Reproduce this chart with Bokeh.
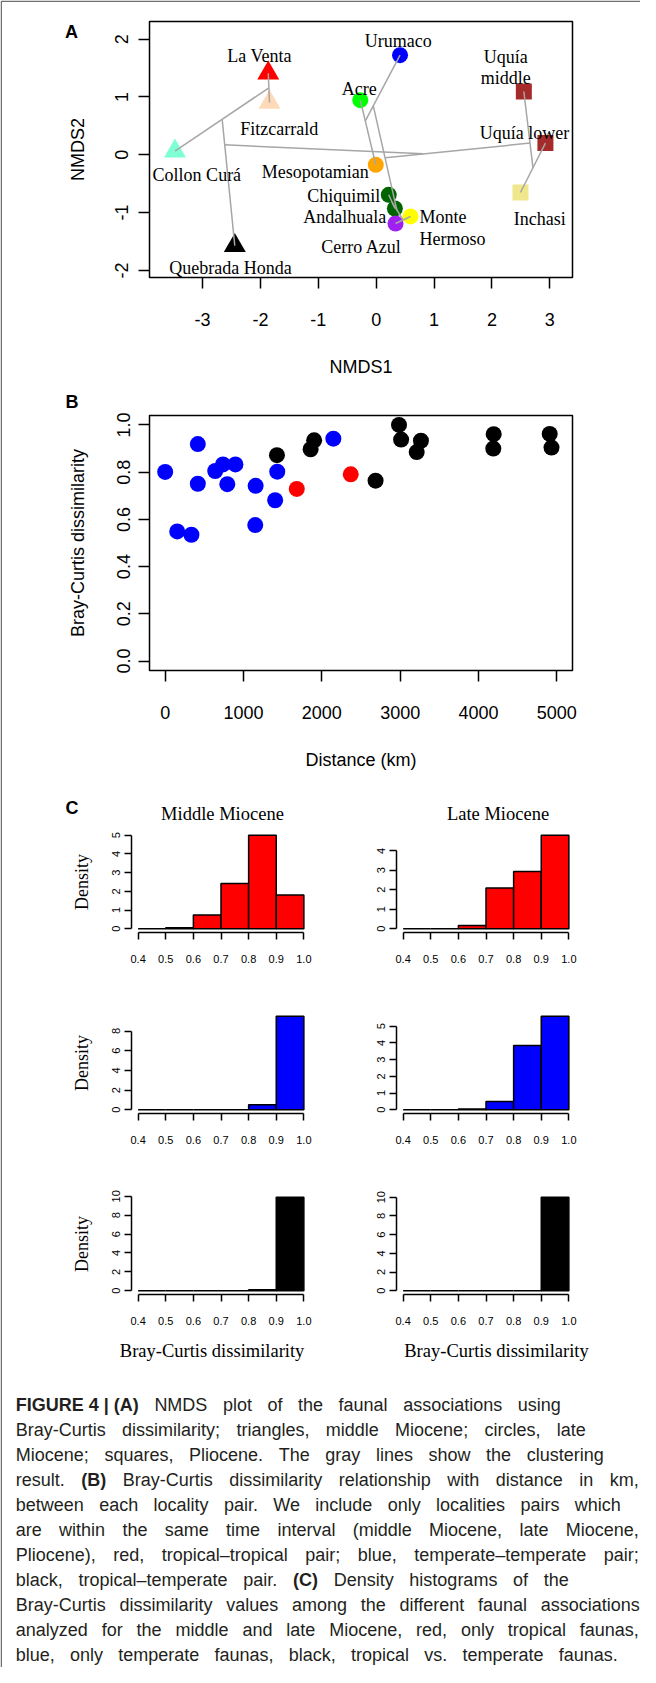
from bokeh.plotting import figure
from bokeh.models import Range1d, FixedTicker, NumeralTickFormatter, Div, ColumnDataSource, GridBox
from bokeh.layouts import column, row
from bokeh.core.properties import value
from bokeh.embed import file_html
from bokeh.resources import INLINE

# ====================== DATA ======================
# Panel A: NMDS ordination of the faunal associations
sites = ["La Venta", "Fitzcarrald", "Collon Curá", "Quebrada Honda",
         "Urumaco", "Acre", "Mesopotamian", "Chiquimil", "Andalhuala",
         "Monte\nHermoso", "Cerro Azul",
         "Uquía\nmiddle", "Uquía lower", "Inchasi"]
site_period = ["middle Miocene"] * 4 + ["late Miocene"] * 7 + ["Pliocene"] * 3
nmds1 = [-1.865, -1.843, -3.477, -2.443, 0.412, -0.275, -0.007, 0.217, 0.323,
         0.593, 0.334, 2.551, 2.924, 2.493]
nmds2 = [1.412, 0.905, 0.063, -1.574, 1.723, 0.945, -0.173, -0.692, -0.929,
         -1.067, -1.189, 1.095, 0.202, -0.652]

# clustering result (segments between merged items / group centroids)
link_x0 = [-1.865, -1.854, -2.660, -2.618, 0.217, 0.334, 0.270, -0.275, 0.412, -0.050, 0.160, 2.924, 2.709]
link_y0 = [1.412, 1.159, 0.600, 0.173, -0.692, -1.189, -0.811, 0.945, 1.723, 0.847, -0.050, 0.202, -0.225]
link_x1 = [-1.843, -3.477, -2.443, 0.810, 0.323, 0.593, 0.464, -0.007, -0.185, 0.360, 2.658, 2.493, 2.551]
link_y1 = [0.905, 0.063, -1.574, 0.016, -0.929, -1.067, -1.128, -0.173, 0.590, -0.970, 0.202, -0.652, 1.095]

ticks_a_x = [-3, -2, -1, 0, 1, 2, 3]
ticks_a_y = [-2, -1, 0, 1, 2]

# Panel B: Bray-Curtis dissimilarity vs distance (km)
dist_temperate = [0, 417, 417, 154, 335, 639, 738, 897, 793, 1155, 1150, 1431, 1404, 2147]
bc_temperate = [0.801, 0.919, 0.751, 0.549, 0.535, 0.805, 0.833, 0.833, 0.749, 0.742, 0.576, 0.802, 0.681, 0.942]
dist_tropical = [1680, 2369]
bc_tropical = [0.729, 0.791]
dist_mixed = [1427, 1857, 1902, 2686, 2985, 3012, 3211, 3265, 4194, 4189, 4909, 4932]
bc_mixed = [0.872, 0.897, 0.935, 0.764, 1.000, 0.938, 0.885, 0.933, 0.961, 0.900, 0.962, 0.904]

ticks_b_x = [0, 1000, 2000, 3000, 4000, 5000]
ticks_b_y = [0.0, 0.2, 0.4, 0.6, 0.8, 1.0]

# Panel C: density histograms of Bray-Curtis dissimilarity
bin_edges = [0.4, 0.5, 0.6, 0.7, 0.8, 0.9, 1.0]
dens_middle_tropical = [0.0, 0.05, 0.73, 2.42, 5.0, 1.8]
dens_late_tropical = [0.0, 0.0, 0.17, 2.09, 2.94, 4.8]
dens_middle_temperate = [0.0, 0.0, 0.0, 0.0, 0.5, 9.5]
dens_late_temperate = [0.0, 0.0, 0.05, 0.5, 3.85, 5.6]
dens_middle_mixed = [0.0, 0.0, 0.0, 0.0, 0.1, 9.9]
dens_late_mixed = [0.0, 0.0, 0.0, 0.0, 0.0, 10.0]

ticks_c_x = [0.4, 0.5, 0.6, 0.7, 0.8, 0.9, 1.0]
ticks_c_y_middle_tropical = [0, 1, 2, 3, 4, 5]
ticks_c_y_late_tropical = [0, 1, 2, 3, 4]
ticks_c_y_middle_temperate = [0, 2, 4, 6, 8]
ticks_c_y_late_temperate = [0, 1, 2, 3, 4, 5]
ticks_c_y_middle_mixed = [0, 2, 4, 6, 8, 10]
ticks_c_y_late_mixed = [0, 2, 4, 6, 8, 10]

panel_titles = ["Middle Miocene", "Late Miocene"]
hist_xlabel = "Bray-Curtis dissimilarity"

caption_lines = [
    "FIGURE\u00a04\u00a0|\u00a0(A) NMDS plot of the faunal associations using",
    "Bray-Curtis dissimilarity; triangles, middle Miocene; circles, late",
    "Miocene; squares, Pliocene. The gray lines show the clustering",
    "result. (B) Bray-Curtis dissimilarity relationship with distance in km,",
    "between each locality pair. We include only localities pairs which",
    "are within the same time interval (middle Miocene, late Miocene,",
    "Pliocene), red, tropical\u2013tropical pair; blue, temperate\u2013temperate pair;",
    "black, tropical\u2013temperate pair. (C) Density histograms of the",
    "Bray-Curtis dissimilarity values among the different faunal associations",
    "analyzed for the middle and late Miocene, red, only tropical faunas,",
    "blue, only temperate faunas, black, tropical vs. temperate faunas.",
]

# ====================== STYLE / LAYOUT ======================
SANS = "Liberation Sans"
SERIF = "Liberation Serif"


def make_fig(page_x, page_y, w, h, fx, fy, fw, fh, xr, yr):
    p = figure(width=w, height=h, x_range=Range1d(*xr), y_range=Range1d(*yr),
               output_backend="svg", toolbar_location=None, title=None,
               min_border_left=fx - page_x, min_border_right=w - (fx - page_x) - fw,
               min_border_top=fy - page_y, min_border_bottom=h - (fy - page_y) - fh)
    p.xgrid.visible = False
    p.ygrid.visible = False
    p.outline_line_color = None
    p.background_fill_color = "white"
    p.border_fill_color = "white"
    return p


def style_axis(ax, ticks, fmt, size, tick_out, standoff, vertical=False,
               line=True, bounds=None, label=None, label_font=SANS, label_size="18px",
               label_standoff=0):
    ax.ticker = FixedTicker(ticks=ticks)
    ax.formatter = NumeralTickFormatter(format=fmt)
    ax.major_label_text_font = SANS
    ax.major_label_text_font_size = size
    ax.major_label_text_color = "black"
    ax.major_tick_out = tick_out
    ax.major_tick_in = 0
    ax.minor_tick_out = 0
    ax.minor_tick_in = 0
    ax.major_tick_line_width = 1.5
    ax.major_tick_line_color = "black"
    ax.major_label_standoff = standoff
    if vertical:
        ax.major_label_orientation = "vertical"
    if line:
        ax.axis_line_width = 1.5
        ax.axis_line_color = "black"
    else:
        ax.axis_line_color = None
    if bounds is not None:
        ax.bounds = bounds
    if label is not None:
        ax.axis_label = label
        ax.axis_label_text_font = label_font
        ax.axis_label_text_font_size = label_size
        ax.axis_label_text_font_style = "normal"
        ax.axis_label_text_color = "black"
        ax.axis_label_standoff = label_standoff


# ---------------- Panel A ----------------
a_xr = (-3.917, 3.392)
a_yr = (-2.123, 2.306)
A_FX, A_FY, A_FW, A_FH = 157, 29, 423, 256
pA = make_fig(8, 8, 640, 382, A_FX, A_FY, A_FW, A_FH, a_xr, a_yr)
pA.outline_line_color = "black"
pA.outline_line_width = 1.5

site_color = {"La Venta": "#FF0000", "Fitzcarrald": "#FFDAB9", "Collon Curá": "#7FFFD4",
              "Quebrada Honda": "#000000", "Urumaco": "#0000FF", "Acre": "#00FF00",
              "Mesopotamian": "#FFA500", "Chiquimil": "#006400", "Andalhuala": "#006400",
              "Monte\nHermoso": "#FFFF00", "Cerro Azul": "#A020F0",
              "Uquía\nmiddle": "#A52A2A", "Uquía lower": "#A52A2A", "Inchasi": "#F0E68C"}
period_marker = {"middle Miocene": "triangle", "late Miocene": "circle", "Pliocene": "square"}
period_size = {"middle Miocene": 22, "late Miocene": 16, "Pliocene": 16}

srcA = ColumnDataSource(dict(
    x=nmds1, y=nmds2,
    marker=[period_marker[s] for s in site_period],
    size=[period_size[s] for s in site_period],
    color=[site_color[s] for s in sites]))
pA.scatter("x", "y", source=srcA, marker="marker", size="size",
           fill_color="color", line_color=None)
pA.segment(x0=link_x0, y0=link_y0, x1=link_x1, y1=link_y1,
           line_color="#A6A6A6", line_width=1.5)

# label placement: (align, dx px, dy px downward to baseline of first line)
label_place = {
    "La Venta": ("center", -8.7, -16.7),
    "Fitzcarrald": ("center", 9.7, 26.7),
    "Collon Curá": ("center", 21.9, 24.0),
    "Quebrada Honda": ("center", -4.3, 22.7),
    "Urumaco": ("center", -1.7, -13.7),
    "Acre": ("center", -1.0, -11.0),
    "Mesopotamian": ("right", -7.1, 7.7),
    "Chiquimil": ("right", -8.4, 1.7),
    "Andalhuala": ("right", -8.7, 9.0),
    "Monte\nHermoso": ("left", 9.0, 1.0),
    "Cerro Azul": ("center", -34.1, 23.0),
    "Uquía\nmiddle": ("center", -18.2, -34.7),
    "Uquía lower": ("center", -21.0, -10.6),
    "Inchasi": ("center", 19.2, 26.7),
}
kx = A_FW / (a_xr[1] - a_xr[0])
ky = A_FH / (a_yr[1] - a_yr[0])
LINE_H = 21.7
groups = {"center": ([], [], []), "left": ([], [], []), "right": ([], [], [])}
for i, s in enumerate(sites):
    align, dx, dy = label_place[s]
    for j, ln in enumerate(s.split("\n")):
        gx, gy, gt = groups[align]
        gx.append(nmds1[i] + dx / kx)
        gy.append(nmds2[i] - (dy + j * LINE_H) / ky)
        gt.append(ln)
for align, (gx, gy, gt) in groups.items():
    if gt:
        pA.text(x=gx, y=gy, text=gt, text_font=value(SERIF), text_font_size="18px",
                text_align=align, text_baseline="alphabetic", text_color="black")

style_axis(pA.xaxis[0], ticks_a_x, "0", "18px", 11, 24, line=False,
           label="NMDS1", label_standoff=28)
style_axis(pA.yaxis[0], ticks_a_y, "0", "18px", 11, 10, vertical=True, line=False,
           label="NMDS2", label_standoff=25)

# ---------------- Panel B ----------------
b_xr = (-200, 5200)
b_yr = (-0.04, 1.04)
pB = make_fig(8, 390, 640, 390, 157, 423, 423, 257, b_xr, b_yr)
pB.outline_line_color = "black"
pB.outline_line_width = 1.5
pB.scatter(dist_temperate, bc_temperate, size=16, fill_color="#0000FF", line_color=None)
pB.scatter(dist_mixed, bc_mixed, size=16, fill_color="#000000", line_color=None)
pB.scatter(dist_tropical, bc_tropical, size=16, fill_color="#FF0000", line_color=None)
style_axis(pB.xaxis[0], ticks_b_x, "0", "18px", 11, 24, line=False,
           label="Distance (km)", label_standoff=28)
style_axis(pB.yaxis[0], ticks_b_y, "0.0", "18px", 11, 8, vertical=True, line=False,
           label="Bray-Curtis dissimilarity", label_standoff=27)

# ---------------- Panel C ----------------
hist_specs = [
    (dens_middle_tropical, "#FF0000", ticks_c_y_middle_tropical, 0, 0),
    (dens_late_tropical, "#FF0000", ticks_c_y_late_tropical, 0, 1),
    (dens_middle_temperate, "#0000FF", ticks_c_y_middle_temperate, 1, 0),
    (dens_late_temperate, "#0000FF", ticks_c_y_late_temperate, 1, 1),
    (dens_middle_mixed, "#000000", ticks_c_y_middle_mixed, 2, 0),
    (dens_late_mixed, "#000000", ticks_c_y_late_mixed, 2, 1),
]
row_box = [(780, 210, 839), (990, 180, 1020), (1170, 210, 1201)]  # page y, height, frame top
col_box = [(8, 320, 139), (328, 320, 404)]                          # page x, width, frame left
C_FW, C_FH = 179, 101
c_xr = (0.376, 1.024)
hist_figs = {}
for dens, color, yt, r, c in hist_specs:
    py, h, fy = row_box[r]
    px, w, fx = col_box[c]
    m = max(dens)
    yr = (-0.04 * m, 1.04 * m)
    p = make_fig(px, py, w, h, fx, fy, C_FW, C_FH, c_xr, yr)
    p.quad(left=bin_edges[:-1], right=bin_edges[1:], bottom=0, top=dens,
           fill_color=color, line_color="black", line_width=1.5)
    style_axis(p.xaxis[0], ticks_c_x, "0.0", "11px", 7, 15, bounds=(0.4, 1.0))
    style_axis(p.yaxis[0], yt, "0", "11px", 7, 4, vertical=True, bounds=(yt[0], yt[-1]),
               label="Density" if c == 0 else None, label_font=SERIF,
               label_size="18px", label_standoff=18)
    hist_figs[(r, c)] = p

# ---------------- Caption ----------------
caption_widths = [545, 570, 588, 623, 605, 623, 623, 553, 624, 623, 602]
line_html = []
for ln, wd in zip(caption_lines, caption_widths):
    spans = []
    for tok in ln.split(" "):
        bold = tok.startswith("FIGURE") or tok in ("(A)", "(B)", "(C)")
        spans.append('<span style="font-weight:%d">%s</span>' % (700 if bold else 400, tok))
    line_html.append('<div style="display:flex;justify-content:space-between;width:%dpx;'
                     'height:25px;line-height:25px;white-space:nowrap">%s</div>' % (wd, "".join(spans)))
cap_html = ('<div style="padding:20.5px 0 0 15.8px;font-family:\'Liberation Sans\',Arial,sans-serif;'
            'font-size:18px;color:#231f20">' + "".join(line_html) + '</div>')
cap = Div(text=cap_html, width=640, height=295, margin=0)

main = column(
    pA, pB,
    row(hist_figs[(0, 0)], hist_figs[(0, 1)]),
    row(hist_figs[(1, 0)], hist_figs[(1, 1)]),
    row(hist_figs[(2, 0)], hist_figs[(2, 1)]),
    cap,
)

# ---------------- Overlay (panel letters, titles, frame) in page pixels ----------------
ov = figure(width=640, height=1667, x_range=Range1d(8, 648), y_range=Range1d(1675, 8),
            output_backend="svg", toolbar_location=None, title=None,
            x_axis_location=None, y_axis_location=None,
            min_border_left=0, min_border_right=0, min_border_top=0, min_border_bottom=0)
ov.grid.visible = False
ov.outline_line_color = None
ov.background_fill_color = None
ov.border_fill_color = None
ov.line(x=[648, 8.75, 8.75], y=[8.75, 8.75, 1675], line_color="#707070", line_width=1.5)
ov.text(x=[79, 79.5, 79.5], y=[39.7, 409.7, 815.6], text=["A", "B", "C"],
        text_font=value(SANS), text_font_size="18px", text_font_style="bold",
        text_align="center", text_baseline="middle", text_color="black")
ov.text(x=[230, 505.5], y=[821, 821], text=panel_titles,
        text_font=value(SERIF), text_font_size="18.5px",
        text_align="center", text_baseline="alphabetic", text_color="black")
ov.text(x=[219.6, 504], y=[1358.5, 1358.5], text=[hist_xlabel, hist_xlabel],
        text_font=value(SERIF), text_font_size="18.5px",
        text_align="center", text_baseline="alphabetic", text_color="black")

layout = GridBox(children=[(main, 0, 0), (ov, 0, 0)])

open("out.html", "w").write(file_html(layout, INLINE))
